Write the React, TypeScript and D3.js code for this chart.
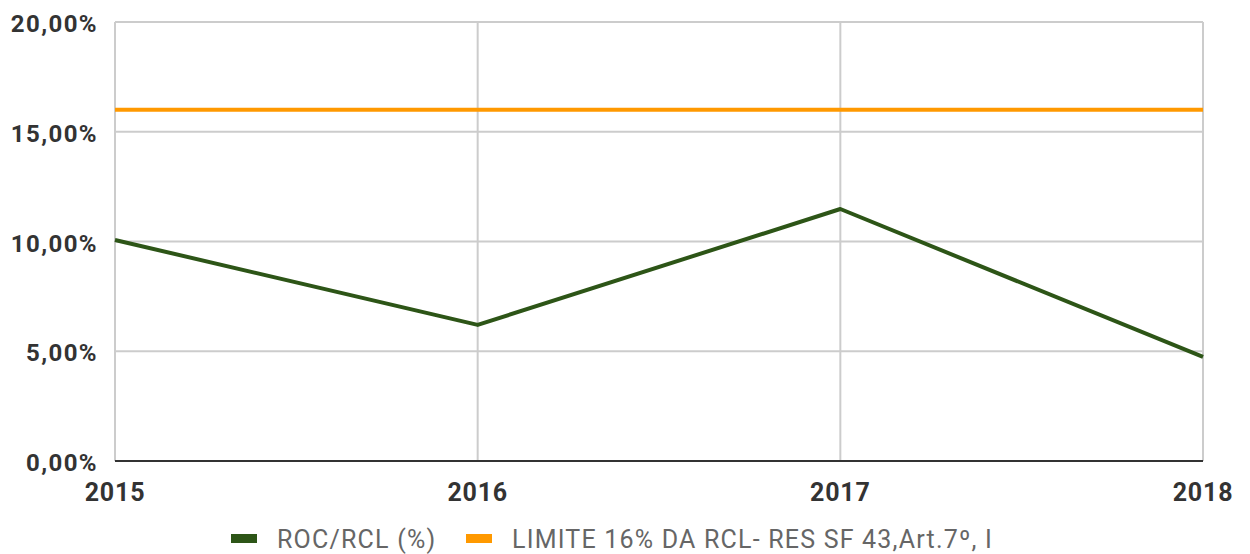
import React from "react";
import * as d3 from "d3";

const years = ["2015", "2016", "2017", "2018"];
const rocRcl = [10.07, 6.2, 11.48, 4.74];
const limite = [16, 16, 16, 16];
const yTicks = [0, 5, 10, 15, 20];
const legendLabels = ["ROC/RCL (%)", "LIMITE 16% DA RCL- RES SF 43,Art.7º, I"];
const colors = ["#2d5517", "#ff9900"];

export default function App() {
  const W = 1250, H = 554;
  const left = 115, right = 1203, top = 22, bottom = 461;
  const x = d3.scalePoint<string>().domain(years).range([left, right]);
  const y = d3.scaleLinear().domain([0, 20]).range([bottom, top]);
  const line = d3.line<number>().x((_, i) => x(years[i])!).y((d) => y(d));
  const fmt = (v: number) => v.toFixed(2).replace(".", ",") + "%";
  const font = "Roboto, sans-serif";
  return (
    <svg width={W} height={H} style={{ position: "absolute", left: 0, top: 0, background: "#fff" }}>
      {yTicks.map((t) => (
        <line key={"h" + t} x1={left} x2={right} y1={y(t)} y2={y(t)} stroke="#cccccc" strokeWidth={2} />
      ))}
      {years.map((yr) => (
        <line key={"v" + yr} x1={x(yr)} x2={x(yr)} y1={top} y2={bottom} stroke="#cccccc" strokeWidth={2} />
      ))}
      <line x1={left} x2={right} y1={bottom} y2={bottom} stroke="#333" strokeWidth={2} />
      {yTicks.map((t) => (
        <text key={"yl" + t} x={98} y={y(t) + 10} textAnchor="end" fontFamily={font} fontWeight="bold" fontSize={24} letterSpacing={1.4} fill="#333">
          {fmt(t)}
        </text>
      ))}
      {years.map((yr) => (
        <text key={"xl" + yr} x={x(yr)} y={501} textAnchor="middle" fontFamily={font} fontWeight="bold" fontSize={25} letterSpacing={0.8} fill="#333">
          {yr}
        </text>
      ))}
      <path d={line(limite)!} fill="none" stroke={colors[1]} strokeWidth={4} />
      <path d={line(rocRcl)!} fill="none" stroke={colors[0]} strokeWidth={4} strokeLinejoin="round" />
      {[231, 466].map((lx, i) => (
        <g key={"lg" + i}>
          <rect x={lx} y={534} width={26} height={9} fill={colors[i]} />
          <text x={lx + 46} y={548} fontFamily={font} fontSize={25} letterSpacing={1.2} fill="#666">
            {legendLabels[i]}
          </text>
        </g>
      ))}
    </svg>
  );
}
